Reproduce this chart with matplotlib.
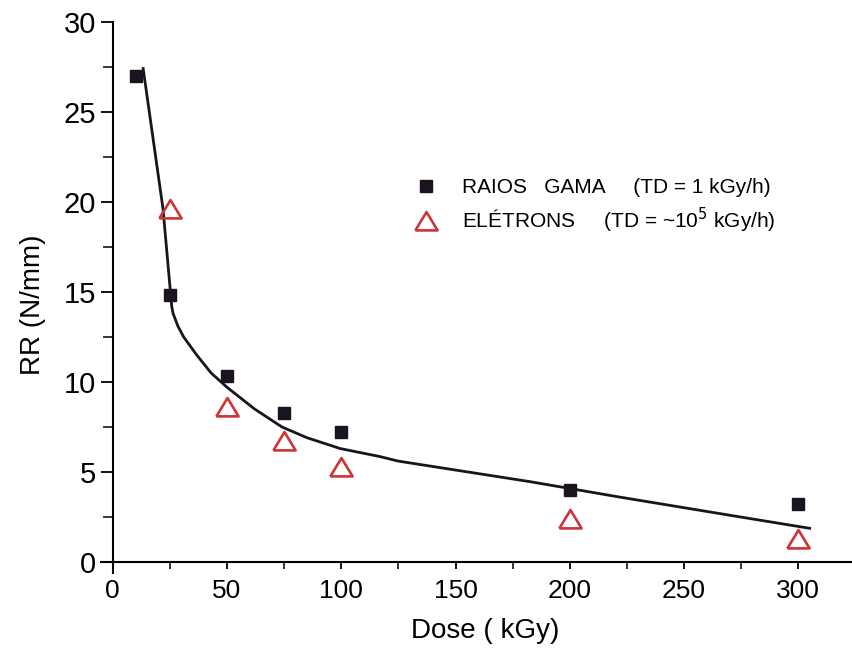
import matplotlib.pyplot as plt
from matplotlib import font_manager
from matplotlib.ticker import MultipleLocator

# --- dados ---
dose_gama = [10, 25, 50, 75, 100, 200, 300]
rr_gama = [27.0, 14.8, 10.3, 8.3, 7.2, 4.0, 3.2]

dose_elet = [25, 50, 75, 100, 200, 300]
rr_elet = [19.6, 8.6, 6.7, 5.3, 2.4, 1.3]

# curva de ajuste (traçada à mão no original)
dose_curva = [13.3, 22, 25.8, 26.4, 28.5, 31, 36.7, 43, 50, 62, 74, 85, 99.5, 117, 125, 182.6, 222, 274.6, 305]
rr_curva = [27.4, 19.6, 14.2, 13.8, 13.1, 12.5, 11.5, 10.5, 9.7, 8.5, 7.5, 6.9, 6.3, 5.85, 5.6, 4.46, 3.6, 2.5, 1.87]

nomes = {f.name for f in font_manager.fontManager.ttflist}
fonte = 'Liberation Sans' if 'Liberation Sans' in nomes else 'DejaVu Sans'
plt.rcParams['font.family'] = [fonte, 'DejaVu Sans']

fig = plt.figure(figsize=(8.53, 6.52), dpi=100)
ax = fig.add_axes([0.1188, 0.1215, 0.8813, 0.8452])

cor_linha = '#1a1420'
cor_verm = '#cc3438'
triangulo = [(-1, -0.8), (1, -0.8), (0, 0.85), (-1, -0.8)]

ax.plot(dose_curva, rr_curva, color=cor_linha, lw=2.0, zorder=2)
ax.plot(dose_gama, rr_gama, 's', color=cor_linha, ms=8.8, ls='none',
        label='RAIOS   GAMA     (TD = 1 kGy/h)', zorder=3)
ax.plot(dose_elet, rr_elet, marker=triangulo, mfc='none', mec=cor_verm, mew=1.9, ms=16, ls='none',
        label='ELÉTRONS     (TD = ~10$^5$ kGy/h)', zorder=3)

ax.set_xlim(-5, 324)
ax.set_ylim(-0.6, 30)
ax.spines['top'].set_visible(False)
ax.spines['right'].set_visible(False)
ax.spines['bottom'].set_position(('data', 0))
ax.spines['left'].set_position(('data', 0))
for s in ('bottom', 'left'):
    ax.spines[s].set_linewidth(1.5)
    ax.spines[s].set_color('black')

ax.xaxis.set_major_locator(MultipleLocator(50))
ax.xaxis.set_minor_locator(MultipleLocator(25))
ax.yaxis.set_major_locator(MultipleLocator(5))
ax.yaxis.set_minor_locator(MultipleLocator(2.5))
ax.tick_params(axis='both', which='both', width=1.3, direction='out', colors='black')
ax.tick_params(axis='y', which='major', length=9, pad=3, labelsize=21)
ax.tick_params(axis='y', which='minor', length=7, width=1.1)
ax.tick_params(axis='x', which='major', length=5, pad=7, labelsize=19)
ax.tick_params(axis='x', which='minor', length=5, width=1.1)

ax.set_xlabel('Dose ( kGy)', fontsize=20, va='top')
ax.set_ylabel('RR (N/mm)', fontsize=20)
ax.xaxis.set_label_coords(0.51, -0.082)
ax.yaxis.set_label_coords(-0.074, 0.486)

ax.legend(loc='upper left', bbox_to_anchor=(0.402, 0.735), frameon=False, fontsize=15,
          handlelength=1.2, handletextpad=1.1, labelspacing=0.4, borderpad=0)

fig.savefig('out.png', dpi=100)
